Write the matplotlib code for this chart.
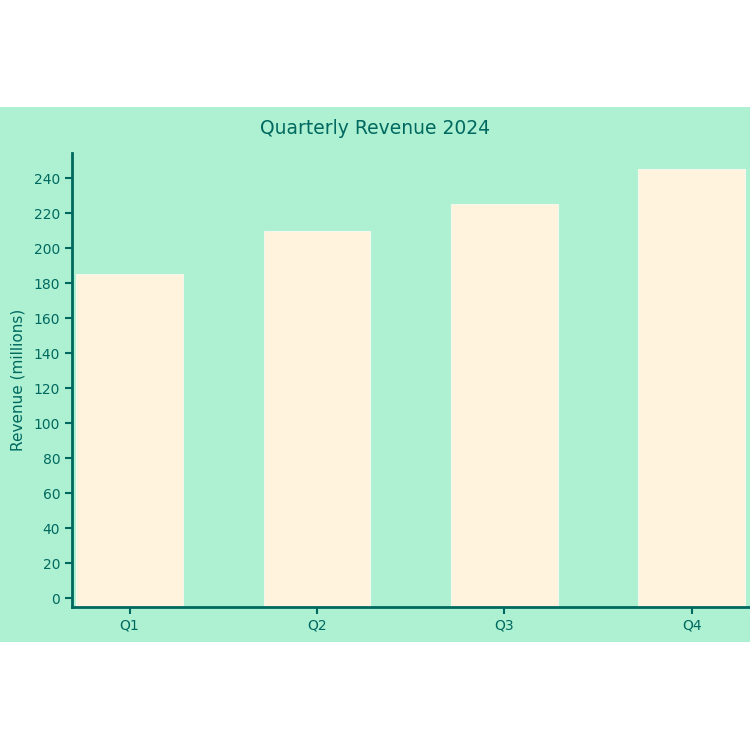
import matplotlib
matplotlib.use("Agg")
from matplotlib import pyplot as plt
import numpy as np

# Chart data
quarters = ["Q1", "Q2", "Q3", "Q4"]
revenue = [185, 210, 225, 245]
y_ticks = list(range(0, 241, 20))

bg_green = "#adf0d2"
bar_color = "#fff3de"
ink = "#00695f"

plt.rcParams['font.family'] = ['DejaVu Sans']

fig = plt.figure(figsize=(7.5, 7.5), dpi=100)
fig.patch.set_facecolor("white")

# Green band behind the plot (a bare axes used as background)
bg = fig.add_axes([0, 108 / 750, 1, 535 / 750], zorder=-1)
bg.set_axis_off()
bg.add_patch(plt.Rectangle((0, 0), 1, 1, transform=bg.transAxes,
                           facecolor=bg_green, edgecolor="none"))

ax = fig.add_axes([72 / 750, 143 / 750, 678 / 750, 454 / 750])
ax.set_facecolor("none")

y_min, y_max = -5.1, 254.3
x = np.arange(len(quarters))
# bars start at the bottom of the axis, like the reference
ax.bar(x, np.array(revenue) - y_min, bottom=y_min, width=0.57,
       color=bar_color, edgecolor="#f4f8ec", linewidth=0.8)

ax.set_xlim(-0.307, 3.31)
ax.set_ylim(y_min, y_max)
ax.set_xticks(x, quarters)
ax.set_yticks(y_ticks)

for side in ["top", "right"]:
    ax.spines[side].set_visible(False)
for side in ["left", "bottom"]:
    ax.spines[side].set_color(ink)
    ax.spines[side].set_linewidth(2)
    ax.spines[side].set_zorder(3)

ax.tick_params(colors=ink, labelcolor=ink, labelsize=10, length=5, width=1.5)
ax.set_ylabel("Revenue (millions)", color=ink, fontsize=11, labelpad=6)
fig.text(375 / 750, 1 - 129 / 750, "Quarterly Revenue 2024", color=ink,
         fontsize=13.5, ha="center", va="center")

plt.savefig("out.png", dpi=100)
